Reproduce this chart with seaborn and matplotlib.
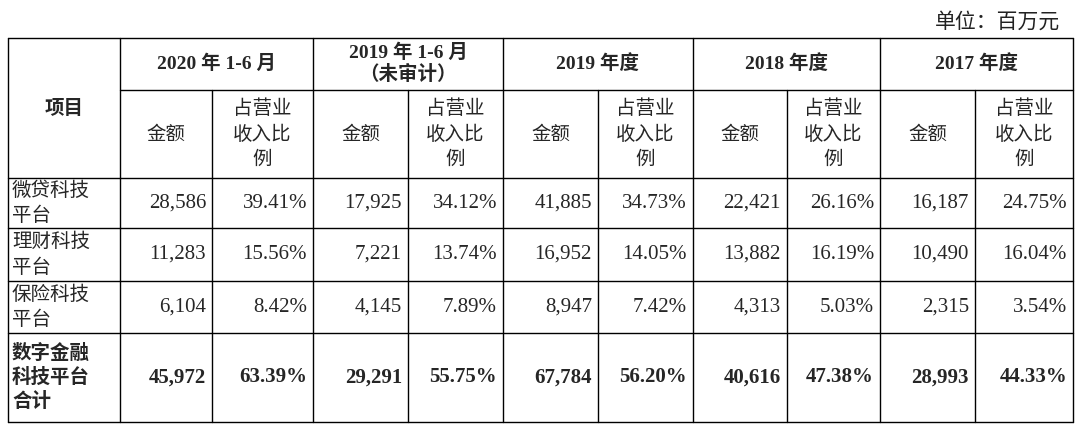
import matplotlib
matplotlib.use("Agg")
import matplotlib.pyplot as plt
import seaborn as sns

sns.set_theme(style="white")

CJK = "Noto Sans CJK SC"
SERIF = "Liberation Serif"

unit_text = "单位：百万元"
item_header = "项目"
periods = ["2020 年 1-6 月", "2019 年 1-6 月\n（未审计）", "2019 年度", "2018 年度", "2017 年度"]
sub_headers = ["金额", "占营业\n收入比\n例"]
items = ["微贷科技\n平台", "理财科技\n平台", "保险科技\n平台", "数字金融\n科技平台\n合计"]
amounts = [
    ["28,586", "17,925", "41,885", "22,421", "16,187"],
    ["11,283", "7,221", "16,952", "13,882", "10,490"],
    ["6,104", "4,145", "8,947", "4,313", "2,315"],
    ["45,972", "29,291", "67,784", "40,616", "28,993"],
]
ratios = [
    ["39.41%", "34.12%", "34.73%", "26.16%", "24.75%"],
    ["15.56%", "13.74%", "14.05%", "16.19%", "16.04%"],
    ["8.42%", "7.89%", "7.42%", "5.03%", "3.54%"],
    ["63.39%", "55.75%", "56.20%", "47.38%", "44.33%"],
]

fig = plt.figure(figsize=(10.8, 4.29), dpi=100)
ax = fig.add_axes([0, 0, 1, 1])
ax.set_xlim(0, 1080)
ax.set_ylim(429, 0)
ax.axis("off")

left, right = 8, 1073
group_x = [120, 313, 503, 693, 880, 1073]
split_x = [212, 408, 598, 787, 975]
row_y = [38, 90, 178, 228, 281, 333, 422]
lw = 1.0
kw = dict(color="black", lw=lw)

# horizontal lines
ax.plot([left, right], [row_y[0]] * 2, **kw)
ax.plot([group_x[0], right], [row_y[1]] * 2, **kw)
for y in row_y[2:]:
    ax.plot([left, right], [y, y], **kw)
# vertical lines
ax.plot([left, left], [row_y[0], row_y[-1]], **kw)
for x in group_x:
    ax.plot([x, x], [row_y[0], row_y[-1]], **kw)
for x in split_x:
    ax.plot([x, x], [row_y[1], row_y[-1]], **kw)

ax.text(1060, 22, unit_text, ha="right", va="center", fontsize=15, fontfamily=CJK, color="#222")
ax.text((left + group_x[0]) / 2, (row_y[0] + row_y[2]) / 2, item_header, ha="center", va="center",
        fontsize=14, fontfamily=CJK, fontweight="bold")

for g, p in enumerate(periods):
    cx = (group_x[g] + group_x[g + 1]) / 2
    ax.text(cx, (row_y[0] + row_y[1]) / 2, p, ha="center", va="center", fontsize=14,
            fontfamily=[SERIF, CJK], fontweight="bold", linespacing=1.2)
    ax.text((group_x[g] + split_x[g]) / 2, (row_y[1] + row_y[2]) / 2, sub_headers[0],
            ha="center", va="center", fontsize=14, fontfamily=CJK)
    ax.text((split_x[g] + group_x[g + 1]) / 2, (row_y[1] + row_y[2]) / 2, sub_headers[1],
            ha="center", va="center", fontsize=14, fontfamily=CJK, linespacing=1.3)

for r, name in enumerate(items):
    cy = (row_y[r + 2] + row_y[r + 3]) / 2
    bold = r == len(items) - 1
    ax.text(12, cy, name, ha="left", va="center", fontsize=14, fontfamily=CJK,
            fontweight="bold" if bold else "normal", linespacing=1.3)
    for g in range(len(periods)):
        ax.text(split_x[g] - 6, cy, amounts[r][g], ha="right", va="center", fontsize=15,
                fontfamily=SERIF, fontweight="bold" if bold else "normal")
        ax.text(group_x[g + 1] - 6, cy, ratios[r][g], ha="right", va="center", fontsize=15,
                fontfamily=SERIF, fontweight="bold" if bold else "normal")

fig.savefig("out.png", dpi=100, facecolor="white")
